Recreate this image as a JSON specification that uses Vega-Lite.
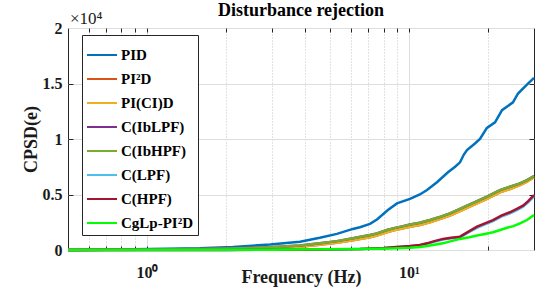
{
  "$schema": "https://vega.github.io/schema/vega-lite/v6.json",
  "width": 466,
  "height": 222,
  "autosize": "none",
  "padding": {"left": 68, "top": 28, "right": 1, "bottom": 41},
  "background": "white",
  "config": {
    "view": {"stroke": "#262626", "strokeWidth": 1},
    "font": "Liberation Serif",
    "axis": {
      "domain": false,
      "tickColor": "#262626"
    }
  },
  "title": {
    "text": "Disturbance rejection",
    "font": "Liberation Serif",
    "fontSize": 18,
    "fontWeight": "bold",
    "color": "#000000",
    "anchor": "middle",
    "offset": -10
  },
  "data": {
    "values": [
      {"s": "PID", "f": 0.5, "v": 0},
      {"s": "PID", "f": 0.66, "v": 30},
      {"s": "PID", "f": 1.03, "v": 80},
      {"s": "PID", "f": 1.59, "v": 150},
      {"s": "PID", "f": 2.13, "v": 270},
      {"s": "PID", "f": 2.95, "v": 500},
      {"s": "PID", "f": 3.84, "v": 750},
      {"s": "PID", "f": 4.57, "v": 1100},
      {"s": "PID", "f": 5.31, "v": 1450},
      {"s": "PID", "f": 6.11, "v": 1900},
      {"s": "PID", "f": 6.5, "v": 2050},
      {"s": "PID", "f": 7.1, "v": 2350},
      {"s": "PID", "f": 7.55, "v": 2750},
      {"s": "PID", "f": 8.31, "v": 3600},
      {"s": "PID", "f": 9.0, "v": 4200},
      {"s": "PID", "f": 10.09, "v": 4600},
      {"s": "PID", "f": 11.0, "v": 5000},
      {"s": "PID", "f": 11.72, "v": 5400},
      {"s": "PID", "f": 12.79, "v": 6100},
      {"s": "PID", "f": 14.09, "v": 7000},
      {"s": "PID", "f": 15.0, "v": 7500},
      {"s": "PID", "f": 15.66, "v": 7900},
      {"s": "PID", "f": 16.2, "v": 8600},
      {"s": "PID", "f": 16.65, "v": 9000},
      {"s": "PID", "f": 17.86, "v": 9600},
      {"s": "PID", "f": 18.66, "v": 10000},
      {"s": "PID", "f": 19.84, "v": 11000},
      {"s": "PID", "f": 21.3, "v": 11500},
      {"s": "PID", "f": 22.65, "v": 12600},
      {"s": "PID", "f": 24.94, "v": 13300},
      {"s": "PID", "f": 26.07, "v": 14100},
      {"s": "PID", "f": 28.2, "v": 14900},
      {"s": "PID", "f": 30, "v": 15500},

      {"s": "PI²D", "f": 0.5, "v": 0},
      {"s": "PI²D", "f": 1.0, "v": 30},
      {"s": "PI²D", "f": 1.59, "v": 60},
      {"s": "PI²D", "f": 2.13, "v": 100},
      {"s": "PI²D", "f": 2.95, "v": 180},
      {"s": "PI²D", "f": 3.84, "v": 300},
      {"s": "PI²D", "f": 4.57, "v": 470},
      {"s": "PI²D", "f": 5.31, "v": 650},
      {"s": "PI²D", "f": 6.11, "v": 880},
      {"s": "PI²D", "f": 7.1, "v": 1150},
      {"s": "PI²D", "f": 7.55, "v": 1300},
      {"s": "PI²D", "f": 8.24, "v": 1600},
      {"s": "PI²D", "f": 8.69, "v": 1750},
      {"s": "PI²D", "f": 9.5, "v": 1950},
      {"s": "PI²D", "f": 10.09, "v": 2100},
      {"s": "PI²D", "f": 11.0, "v": 2250},
      {"s": "PI²D", "f": 12.03, "v": 2500},
      {"s": "PI²D", "f": 13.2, "v": 2800},
      {"s": "PI²D", "f": 14.33, "v": 3100},
      {"s": "PI²D", "f": 15.5, "v": 3450},
      {"s": "PI²D", "f": 16.65, "v": 3800},
      {"s": "PI²D", "f": 18.2, "v": 4200},
      {"s": "PI²D", "f": 19.84, "v": 4600},
      {"s": "PI²D", "f": 22.24, "v": 5200},
      {"s": "PI²D", "f": 24.3, "v": 5500},
      {"s": "PI²D", "f": 26.53, "v": 5850},
      {"s": "PI²D", "f": 28.2, "v": 6150},
      {"s": "PI²D", "f": 30, "v": 6550},

      {"s": "PI(CI)D", "f": 0.5, "v": 0},
      {"s": "PI(CI)D", "f": 1.0, "v": 30},
      {"s": "PI(CI)D", "f": 1.59, "v": 60},
      {"s": "PI(CI)D", "f": 2.13, "v": 100},
      {"s": "PI(CI)D", "f": 2.95, "v": 180},
      {"s": "PI(CI)D", "f": 3.84, "v": 300},
      {"s": "PI(CI)D", "f": 4.57, "v": 470},
      {"s": "PI(CI)D", "f": 5.31, "v": 650},
      {"s": "PI(CI)D", "f": 6.11, "v": 880},
      {"s": "PI(CI)D", "f": 7.1, "v": 1150},
      {"s": "PI(CI)D", "f": 7.55, "v": 1300},
      {"s": "PI(CI)D", "f": 8.24, "v": 1600},
      {"s": "PI(CI)D", "f": 8.69, "v": 1750},
      {"s": "PI(CI)D", "f": 9.5, "v": 1950},
      {"s": "PI(CI)D", "f": 10.09, "v": 2100},
      {"s": "PI(CI)D", "f": 11.0, "v": 2250},
      {"s": "PI(CI)D", "f": 12.03, "v": 2500},
      {"s": "PI(CI)D", "f": 13.2, "v": 2800},
      {"s": "PI(CI)D", "f": 14.33, "v": 3100},
      {"s": "PI(CI)D", "f": 15.5, "v": 3450},
      {"s": "PI(CI)D", "f": 16.65, "v": 3800},
      {"s": "PI(CI)D", "f": 18.2, "v": 4200},
      {"s": "PI(CI)D", "f": 19.84, "v": 4600},
      {"s": "PI(CI)D", "f": 22.24, "v": 5200},
      {"s": "PI(CI)D", "f": 24.3, "v": 5500},
      {"s": "PI(CI)D", "f": 26.53, "v": 5850},
      {"s": "PI(CI)D", "f": 28.2, "v": 6150},
      {"s": "PI(CI)D", "f": 30, "v": 6550},

      {"s": "C(IbLPF)", "f": 0.5, "v": 0},
      {"s": "C(IbLPF)", "f": 1.0, "v": 40},
      {"s": "C(IbLPF)", "f": 1.59, "v": 80},
      {"s": "C(IbLPF)", "f": 2.13, "v": 130},
      {"s": "C(IbLPF)", "f": 2.95, "v": 250},
      {"s": "C(IbLPF)", "f": 3.84, "v": 400},
      {"s": "C(IbLPF)", "f": 4.57, "v": 600},
      {"s": "C(IbLPF)", "f": 5.31, "v": 800},
      {"s": "C(IbLPF)", "f": 6.11, "v": 1050},
      {"s": "C(IbLPF)", "f": 7.1, "v": 1350},
      {"s": "C(IbLPF)", "f": 7.55, "v": 1500},
      {"s": "C(IbLPF)", "f": 8.24, "v": 1800},
      {"s": "C(IbLPF)", "f": 8.69, "v": 1950},
      {"s": "C(IbLPF)", "f": 9.5, "v": 2150},
      {"s": "C(IbLPF)", "f": 10.09, "v": 2300},
      {"s": "C(IbLPF)", "f": 11.0, "v": 2450},
      {"s": "C(IbLPF)", "f": 12.03, "v": 2700},
      {"s": "C(IbLPF)", "f": 13.2, "v": 3000},
      {"s": "C(IbLPF)", "f": 14.33, "v": 3300},
      {"s": "C(IbLPF)", "f": 15.5, "v": 3650},
      {"s": "C(IbLPF)", "f": 16.65, "v": 4000},
      {"s": "C(IbLPF)", "f": 18.2, "v": 4400},
      {"s": "C(IbLPF)", "f": 19.84, "v": 4800},
      {"s": "C(IbLPF)", "f": 22.24, "v": 5400},
      {"s": "C(IbLPF)", "f": 24.3, "v": 5700},
      {"s": "C(IbLPF)", "f": 26.53, "v": 6000},
      {"s": "C(IbLPF)", "f": 28.2, "v": 6300},
      {"s": "C(IbLPF)", "f": 30, "v": 6670},

      {"s": "C(IbHPF)", "f": 0.5, "v": 0},
      {"s": "C(IbHPF)", "f": 1.0, "v": 40},
      {"s": "C(IbHPF)", "f": 1.59, "v": 80},
      {"s": "C(IbHPF)", "f": 2.13, "v": 130},
      {"s": "C(IbHPF)", "f": 2.95, "v": 250},
      {"s": "C(IbHPF)", "f": 3.84, "v": 400},
      {"s": "C(IbHPF)", "f": 4.57, "v": 600},
      {"s": "C(IbHPF)", "f": 5.31, "v": 800},
      {"s": "C(IbHPF)", "f": 6.11, "v": 1050},
      {"s": "C(IbHPF)", "f": 7.1, "v": 1350},
      {"s": "C(IbHPF)", "f": 7.55, "v": 1500},
      {"s": "C(IbHPF)", "f": 8.24, "v": 1800},
      {"s": "C(IbHPF)", "f": 8.69, "v": 1950},
      {"s": "C(IbHPF)", "f": 9.5, "v": 2150},
      {"s": "C(IbHPF)", "f": 10.09, "v": 2300},
      {"s": "C(IbHPF)", "f": 11.0, "v": 2450},
      {"s": "C(IbHPF)", "f": 12.03, "v": 2700},
      {"s": "C(IbHPF)", "f": 13.2, "v": 3000},
      {"s": "C(IbHPF)", "f": 14.33, "v": 3300},
      {"s": "C(IbHPF)", "f": 15.5, "v": 3650},
      {"s": "C(IbHPF)", "f": 16.65, "v": 4000},
      {"s": "C(IbHPF)", "f": 18.2, "v": 4400},
      {"s": "C(IbHPF)", "f": 19.84, "v": 4800},
      {"s": "C(IbHPF)", "f": 22.24, "v": 5400},
      {"s": "C(IbHPF)", "f": 24.3, "v": 5700},
      {"s": "C(IbHPF)", "f": 26.53, "v": 6000},
      {"s": "C(IbHPF)", "f": 28.2, "v": 6300},
      {"s": "C(IbHPF)", "f": 30, "v": 6670},

      {"s": "C(LPF)", "f": 0.5, "v": 0},
      {"s": "C(LPF)", "f": 2.0, "v": 10},
      {"s": "C(LPF)", "f": 4.0, "v": 30},
      {"s": "C(LPF)", "f": 6.5, "v": 90},
      {"s": "C(LPF)", "f": 8.0, "v": 160},
      {"s": "C(LPF)", "f": 8.69, "v": 220},
      {"s": "C(LPF)", "f": 10.09, "v": 330},
      {"s": "C(LPF)", "f": 11.0, "v": 420},
      {"s": "C(LPF)", "f": 11.72, "v": 560},
      {"s": "C(LPF)", "f": 12.5, "v": 750},
      {"s": "C(LPF)", "f": 13.49, "v": 950},
      {"s": "C(LPF)", "f": 14.5, "v": 1050},
      {"s": "C(LPF)", "f": 15.66, "v": 1150},
      {"s": "C(LPF)", "f": 17.0, "v": 1620},
      {"s": "C(LPF)", "f": 18.18, "v": 2000},
      {"s": "C(LPF)", "f": 19.5, "v": 2300},
      {"s": "C(LPF)", "f": 20.92, "v": 2600},
      {"s": "C(LPF)", "f": 22.5, "v": 3000},
      {"s": "C(LPF)", "f": 24.28, "v": 3300},
      {"s": "C(LPF)", "f": 25.8, "v": 3600},
      {"s": "C(LPF)", "f": 27.24, "v": 3900},
      {"s": "C(LPF)", "f": 28.5, "v": 4300},
      {"s": "C(LPF)", "f": 30, "v": 4850},

      {"s": "C(HPF)", "f": 0.5, "v": 0},
      {"s": "C(HPF)", "f": 2.0, "v": 10},
      {"s": "C(HPF)", "f": 4.0, "v": 30},
      {"s": "C(HPF)", "f": 6.5, "v": 100},
      {"s": "C(HPF)", "f": 8.0, "v": 180},
      {"s": "C(HPF)", "f": 8.69, "v": 250},
      {"s": "C(HPF)", "f": 10.09, "v": 360},
      {"s": "C(HPF)", "f": 11.0, "v": 450},
      {"s": "C(HPF)", "f": 11.72, "v": 600},
      {"s": "C(HPF)", "f": 12.5, "v": 800},
      {"s": "C(HPF)", "f": 13.49, "v": 1000},
      {"s": "C(HPF)", "f": 14.5, "v": 1100},
      {"s": "C(HPF)", "f": 15.66, "v": 1200},
      {"s": "C(HPF)", "f": 17.0, "v": 1700},
      {"s": "C(HPF)", "f": 18.18, "v": 2100},
      {"s": "C(HPF)", "f": 19.5, "v": 2400},
      {"s": "C(HPF)", "f": 20.92, "v": 2700},
      {"s": "C(HPF)", "f": 22.5, "v": 3100},
      {"s": "C(HPF)", "f": 24.28, "v": 3400},
      {"s": "C(HPF)", "f": 25.8, "v": 3700},
      {"s": "C(HPF)", "f": 27.24, "v": 4000},
      {"s": "C(HPF)", "f": 28.5, "v": 4400},
      {"s": "C(HPF)", "f": 30, "v": 4950},

      {"s": "CgLp-PI²D", "f": 0.5, "v": 0},
      {"s": "CgLp-PI²D", "f": 3.0, "v": 20},
      {"s": "CgLp-PI²D", "f": 6.5, "v": 80},
      {"s": "CgLp-PI²D", "f": 8.5, "v": 130},
      {"s": "CgLp-PI²D", "f": 10.09, "v": 200},
      {"s": "CgLp-PI²D", "f": 11.0, "v": 270},
      {"s": "CgLp-PI²D", "f": 11.72, "v": 360},
      {"s": "CgLp-PI²D", "f": 12.5, "v": 470},
      {"s": "CgLp-PI²D", "f": 13.49, "v": 600},
      {"s": "CgLp-PI²D", "f": 14.5, "v": 800},
      {"s": "CgLp-PI²D", "f": 15.66, "v": 1000},
      {"s": "CgLp-PI²D", "f": 17.0, "v": 1150},
      {"s": "CgLp-PI²D", "f": 18.18, "v": 1300},
      {"s": "CgLp-PI²D", "f": 19.5, "v": 1450},
      {"s": "CgLp-PI²D", "f": 20.92, "v": 1600},
      {"s": "CgLp-PI²D", "f": 22.3, "v": 1800},
      {"s": "CgLp-PI²D", "f": 23.66, "v": 2000},
      {"s": "CgLp-PI²D", "f": 25.0, "v": 2150},
      {"s": "CgLp-PI²D", "f": 26.53, "v": 2400},
      {"s": "CgLp-PI²D", "f": 28.2, "v": 2700},
      {"s": "CgLp-PI²D", "f": 30, "v": 3150}
    ]
  },
  "layer": [
    {
      "mark": {"type": "line", "opacity": 0},
      "encoding": {
        "x": {
          "field": "f", "type": "quantitative",
          "scale": {"type": "log", "domain": [0.5, 30], "nice": false},
          "axis": {
            "orient": "bottom", "title": null, "labels": false,
            "values": [0.6, 0.7, 0.8, 0.9, 1, 2, 3, 4, 5, 6, 7, 8, 9, 10, 20],
            "grid": true, "gridDash": [1, 2], "gridColor": "#c4c4c4", "gridWidth": 1,
            "ticks": true, "tickSize": -4
          }
        },
        "y": {
          "field": "v", "type": "quantitative",
          "scale": {"domain": [0, 20000], "nice": false},
          "axis": {
            "orient": "right", "title": null, "labels": false, "grid": false,
            "values": [5000, 10000, 15000], "ticks": true, "tickSize": -5
          }
        },
        "detail": {"field": "s"}
      }
    },
    {
      "mark": {"type": "line", "opacity": 0},
      "encoding": {
        "x": {
          "field": "f", "type": "quantitative",
          "axis": {
            "orient": "top", "title": null, "labels": false, "grid": false,
            "values": [0.6, 0.7, 0.8, 0.9, 1, 2, 3, 4, 5, 6, 7, 8, 9, 10, 20],
            "ticks": true, "tickSize": -4
          }
        },
        "y": {
          "field": "v", "type": "quantitative",
          "axis": {
            "orient": "left", "title": null, "labels": false, "grid": false,
            "values": [5000, 10000, 15000], "ticks": true, "tickSize": -5
          }
        },
        "detail": {"field": "s"}
      }
    },
    {
      "mark": {"type": "line", "strokeWidth": 2.5},
      "encoding": {
        "x": {
          "field": "f", "type": "quantitative",
          "axis": {
            "orient": "bottom",
            "title": "Frequency (Hz)",
            "titleFont": "Liberation Serif", "titleFontSize": 18, "titleFontWeight": "bold", "titleColor": "#1a1a1a",
            "titleX": 233, "titleY": 32, "titleBaseline": "alphabetic",
            "values": [1, 10],
            "labelExpr": "datum.value == 1 ? '10⁰' : '10¹'",
            "labelFont": "Liberation Serif", "labelFontSize": 16, "labelFontWeight": "bold", "labelColor": "#1a1a1a",
            "labelBaseline": "alphabetic", "labelPadding": 27,
            "ticks": false,
            "grid": true, "gridColor": "#dedede", "gridWidth": 1
          }
        },
        "y": {
          "field": "v", "type": "quantitative",
          "axis": {
            "orient": "left",
            "title": "CPSD(e)",
            "titleFont": "Liberation Serif", "titleFontSize": 18, "titleFontWeight": "bold", "titleColor": "#1a1a1a",
            "titleX": -32, "titleY": 111, "titleAngle": -90,
            "titleBaseline": "alphabetic", "titleAlign": "center",
            "values": [0, 5000, 10000, 15000, 20000],
            "labelExpr": "format(datum.value / 10000, '')",
            "labelFont": "Liberation Serif", "labelFontSize": 16, "labelFontWeight": "bold", "labelColor": "#1a1a1a",
            "labelPadding": 6,
            "ticks": false,
            "grid": true, "gridColor": "#dedede", "gridWidth": 1
          }
        },
        "color": {
          "field": "s", "type": "nominal",
          "scale": {
            "domain": ["PID", "PI²D", "PI(CI)D", "C(IbLPF)", "C(IbHPF)", "C(LPF)", "C(HPF)", "CgLp-PI²D"],
            "range": ["#0072BD", "#D95319", "#EDB120", "#7E2F8E", "#77AC30", "#4DBEEE", "#A2142F", "#00FF00"]
          },
          "legend": {
            "title": null,
            "orient": "none",
            "legendX": 14,
            "legendY": 7,
            "symbolType": "stroke",
            "symbolSize": 900,
            "symbolStrokeWidth": 2,
            "labelFont": "Liberation Serif",
            "labelFontSize": 15,
            "labelFontWeight": "bold",
            "labelColor": "#000000",
            "strokeColor": "#262626",
            "fillColor": "white",
            "padding": 4,
            "labelOffset": 3,
            "rowPadding": -2
          }
        },
        "order": {"field": "f", "type": "quantitative"}
      }
    },
    {
      "data": {"values": [{"f": 0.5, "v": 20000, "t": "×10⁴"}]},
      "mark": {"type": "text", "align": "left", "baseline": "alphabetic", "dx": 2, "dy": -4, "fontSize": 17, "font": "Liberation Serif", "color": "#1a1a1a"},
      "encoding": {
        "x": {"field": "f", "type": "quantitative", "axis": null},
        "y": {"field": "v", "type": "quantitative", "axis": null},
        "text": {"field": "t"}
      }
    }
  ],
  "resolve": {"axis": {"x": "independent", "y": "independent"}}
}
